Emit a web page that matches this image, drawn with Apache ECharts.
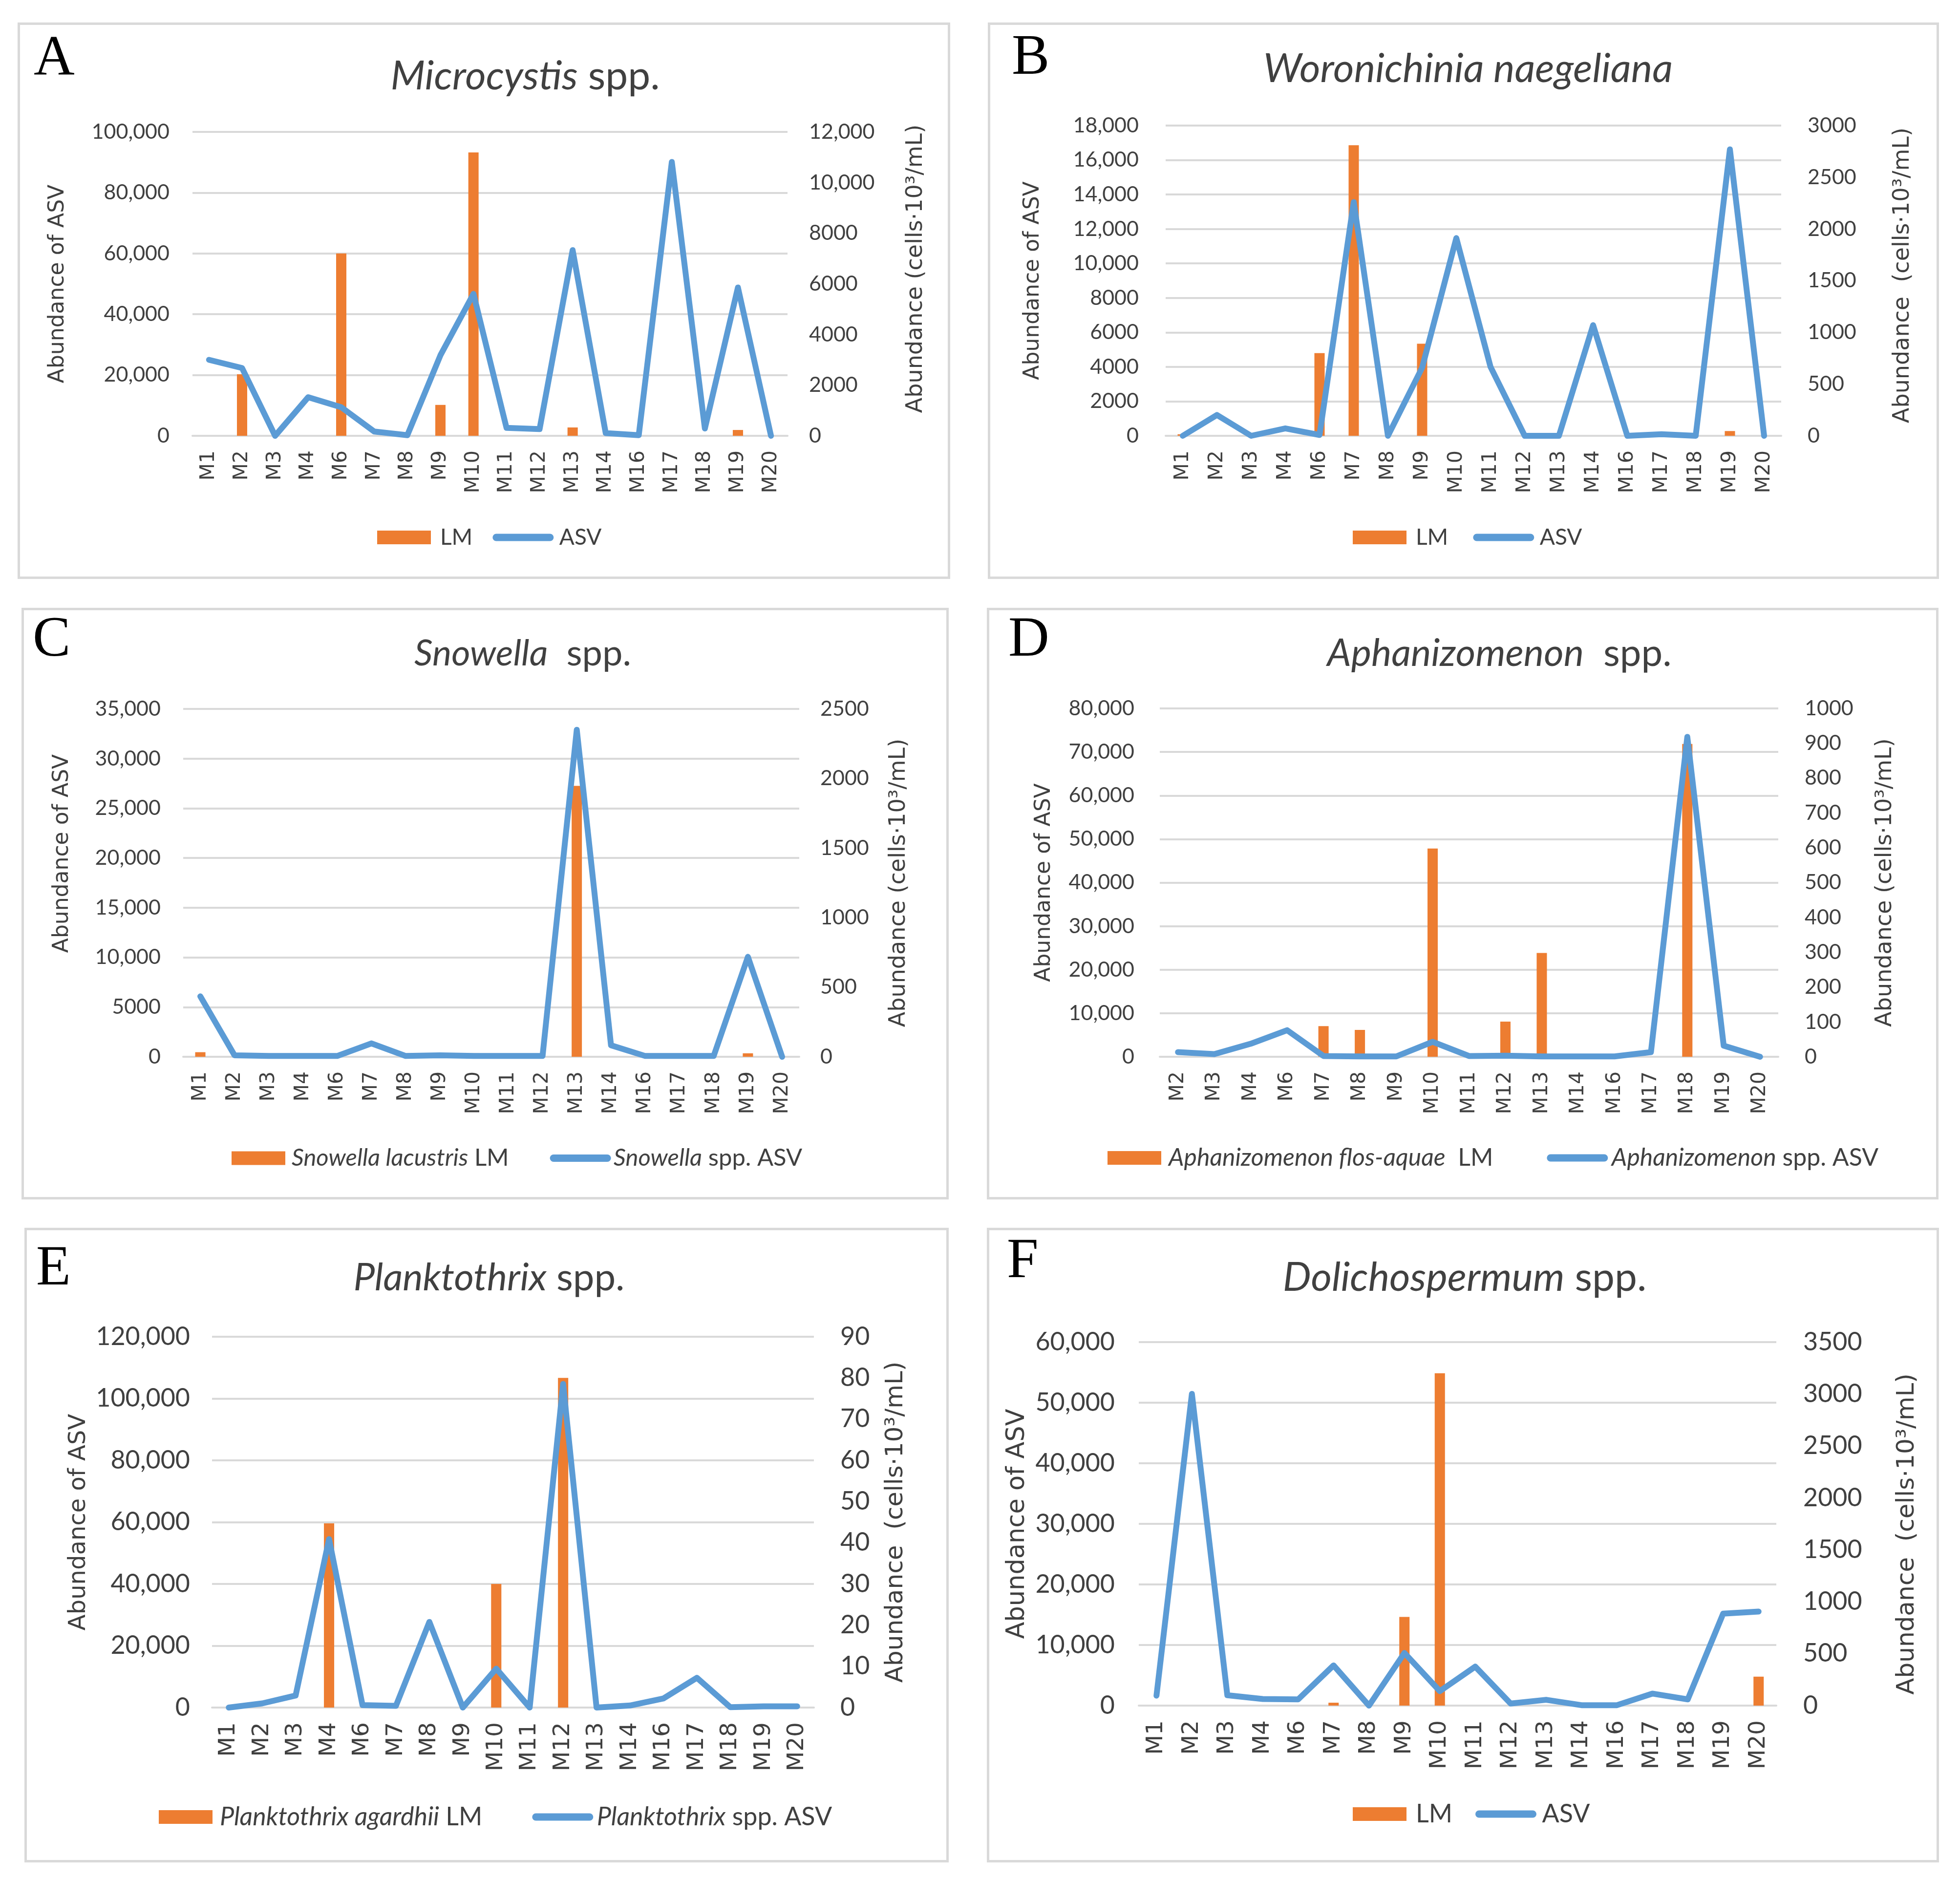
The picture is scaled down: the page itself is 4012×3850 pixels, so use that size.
<!DOCTYPE html>
<html><head><meta charset="utf-8">
<script src="https://cdn.jsdelivr.net/npm/echarts@6/dist/echarts.min.js"></script>
<style>
html,body{margin:0;padding:0;background:#fff;width:4012px;height:3850px;overflow:hidden}
.p{position:absolute}
</style>
</head><body>
<div id="pA" class="p"></div><div id="pB" class="p"></div>
<div id="pC" class="p"></div><div id="pD" class="p"></div>
<div id="pE" class="p"></div><div id="pF" class="p"></div>
<script>
// ---------- DATA ----------
const catsStd = ['M1','M2','M3','M4','M6','M7','M8','M9','M10','M11','M12','M13','M14','M16','M17','M18','M19','M20'];
const catsD   = ['M2','M3','M4','M6','M7','M8','M9','M10','M11','M12','M13','M14','M16','M17','M18','M19','M20'];

// A: Microcystis
const asvA = [25000, 22300, 0, 12700, 9400, 1400, 200, 26500, 46700, 2600, 2200, 61100, 900, 200, 90100, 2400, 48800, 0];
const lmA  = [0, 2430, 0, 0, 7200, 0, 0, 1220, 11190, 0, 0, 330, 0, 0, 0, 0, 230, 0];
const ticksAL = [0, 20000, 40000, 60000, 80000, 100000];
const ticksAR = [0, 2000, 4000, 6000, 8000, 10000, 12000];

// B: Woronichinia naegeliana
const asvB = [0, 1210, 0, 430, 50, 13560, 0, 3950, 11470, 4000, 0, 0, 6420, 0, 90, 0, 16620, 0];
const lmB  = [15, 0, 0, 0, 800, 2810, 0, 890, 0, 0, 0, 0, 0, 0, 0, 0, 46, 0];
const ticksBL = [0, 2000, 4000, 6000, 8000, 10000, 12000, 14000, 16000, 18000];
const ticksBR = [0, 500, 1000, 1500, 2000, 2500, 3000];

// C: Snowella
const asvC = [6080, 150, 80, 80, 80, 1350, 80, 150, 80, 80, 80, 32900, 1160, 80, 80, 80, 10060, 0];
const lmC  = [33, 0, 0, 0, 0, 0, 0, 5, 25, 0, 0, 1947, 0, 0, 0, 0, 25, 0];
const ticksCL = [0, 5000, 10000, 15000, 20000, 25000, 30000, 35000];
const ticksCR = [0, 500, 1000, 1500, 2000, 2500];

// D: Aphanizomenon
const asvD = [1060, 620, 3000, 6100, 180, 90, 90, 3440, 180, 260, 90, 90, 90, 1060, 73470, 2560, 0];
const lmD  = [0, 0, 0, 0, 88, 77, 0, 598, 0, 101, 298, 0, 0, 0, 898, 0, 0];
const ticksDL = [0, 10000, 20000, 30000, 40000, 50000, 60000, 70000, 80000];
const ticksDR = [0, 100, 200, 300, 400, 500, 600, 700, 800, 900, 1000];

// E: Planktothrix
const asvE = [0, 1340, 3880, 54500, 800, 540, 27720, 0, 12590, 0, 104700, 0, 670, 2950, 9640, 130, 400, 400];
const lmE  = [0, 0, 0, 44.7, 0, 0, 0, 0, 30, 0, 80, 0, 0, 0, 0, 0, 0, 0];
const ticksEL = [0, 20000, 40000, 60000, 80000, 100000, 120000];
const ticksER = [0, 10, 20, 30, 40, 50, 60, 70, 80, 90];

// F: Dolichospermum
const asvF = [1640, 51450, 1710, 1090, 1030, 6640, 0, 8690, 2390, 6430, 340, 960, 70, 70, 1980, 1030, 15190, 15530];
const lmF  = [0, 0, 0, 0, 0, 28, 0, 854, 3200, 0, 0, 0, 0, 0, 0, 0, 0, 279];
const ticksFL = [0, 10000, 20000, 30000, 40000, 50000, 60000];
const ticksFR = [0, 500, 1000, 1500, 2000, 2500, 3000, 3500];

// ---------- TEXT ----------
const leftName = 'Abundance of ASV';
const rightName1 = 'Abundance (cells\u00b710\u00b3/mL)';
const rightName2 = 'Abundance  (cells\u00b710\u00b3/mL)';

// ---------- LAYOUT ----------
const fSmall = {tick:43, cat:41, lname:44, rname:46, letter:116};
const fBig   = {tick:52, cat:47, lname:48, rname:50, letter:116};
const fBigF  = {tick:52, cat:47, lname:51, rname:50, letter:116};

const panels = [
 {id:'pA', box:[36,46,1909,1139], grid:[358,224,1218,622], letter:'A', letterPos:[33,77],
  title:'{i|Microcystis} {n|spp.}', titlePos:[1039,111], titleSize:82, cats:catsStd, asv:asvA, lm:lmA, lt:ticksAL, rt:ticksAR,
  rName:rightName1, lGap:253, rGap:240, lMargin:47, rMargin:44, lPad:[0,0,0,0], rPad:[0,0,0,62],
  legY:1059, legC:962, legGap:41, legFont:46, textPad:14, lmLabel:'LM', asvLabel:'ASV', f:fSmall},
 {id:'pB', box:[2022,46,1947,1139], grid:[364,211,1260,635], letter:'B', letterPos:[49,75],
  title:'{i|Woronichinia naegeliana}', titlePos:[983,96], titleSize:82, cats:catsStd, asv:asvB, lm:lmB, lt:ticksBL, rt:ticksBR,
  rName:rightName2, lGap:249, rGap:226, lMargin:55, rMargin:54, lPad:[0,0,0,0], rPad:[0,0,0,22],
  legY:1059, legC:978, legGap:51, legFont:46, textPad:14, lmLabel:'LM', asvLabel:'ASV', f:fSmall},
 {id:'pC', box:[44,1244,1898,1211], grid:[331,207,1261,712], letter:'C', letterPos:[23,68],
  title:'{i|Snowella}  {n|spp.}', titlePos:[1026,94], titleSize:74, cats:catsStd, asv:asvC, lm:lmC, lt:ticksCL, rt:ticksCR,
  rName:rightName1, lGap:225, rGap:181, lMargin:46, rMargin:43, lPad:[0,0,0,120], rPad:[0,0,0,0],
  legY:1131, legC:1010, legGap:84, legFont:49, textPad:8, lmLabel:'{i|Snowella lacustris} LM', asvLabel:'{i|Snowella} spp. ASV', f:fSmall},
 {id:'pD', box:[2020,1244,1948,1211], grid:[354,206,1266,713], letter:'D', letterPos:[44,68],
  title:'{i|Aphanizomenon}  {n|spp.}', titlePos:[1049,94], titleSize:78, cats:catsD, asv:asvD, lm:lmD, lt:ticksDL, rt:ticksDR,
  rName:rightName1, lGap:214, rGap:196, lMargin:52, rMargin:54, lPad:[0,0,0,0], rPad:[0,0,0,0],
  legY:1131, legC:1032, legGap:110, legFont:50, textPad:10, lmLabel:'{i|Aphanizomenon flos-aquae}  LM', asvLabel:'{i|Aphanizomenon} spp. ASV', f:fSmall},
 {id:'pE', box:[50,2513,1892,1299], grid:[384,223,1232,759], letter:'E', letterPos:[24,86],
  title:'{i|Planktothrix} {n|spp.}', titlePos:[951,103], titleSize:78, cats:catsStd, asv:asvE, lm:lmE, lt:ticksEL, rt:ticksER,
  rName:rightName2, lGap:240, rGap:143, lMargin:45, rMargin:54, lPad:[0,0,0,0], rPad:[0,0,0,0],
  legY:1211, legC:960, legGap:102, legFont:52, textPad:10, lmLabel:'{i|Planktothrix agardhii} LM', asvLabel:'{i|Planktothrix} spp. ASV', f:fBig},
 {id:'pF', box:[2020,2513,1949,1299], grid:[311,234,1305,744], letter:'F', letterPos:[41,71],
  title:'{i|Dolichospermum} {n|spp.}', titlePos:[978,103], titleSize:82, cats:catsStd, asv:asvF, lm:lmF, lt:ticksFL, rt:ticksFR,
  rName:rightName2, lGap:195, rGap:243, lMargin:49, rMargin:55, lPad:[0,0,0,0], rPad:[0,42,0,0],
  legY:1205, legC:988, legGap:47, legFont:52, textPad:14, lmLabel:'LM', asvLabel:'ASV', f:fBigF}
];

const TXT = '#404040';
const ORANGE = '#ED7D31';
const BLUE = '#5B9BD5';
const GRID = '#d9d9d9';
const LEG_W = 110, LEG_H = 28;

function numFmt(v){
  return v >= 10000 ? String(v).replace(/\B(?=(\d{3})+(?!\d))/g, ',') : String(v);
}

const mctx = document.createElement('canvas').getContext('2d');
function richWidth(label, size){
  let w = 0;
  const re = /\{i\|([^}]*)\}|([^{]+)/g;
  let m;
  while ((m = re.exec(label)) !== null){
    if (m[1] !== undefined){ mctx.font = 'italic ' + size + 'px Lato'; w += mctx.measureText(m[1]).width; }
    else { mctx.font = size + 'px Lato'; w += mctx.measureText(m[2]).width; }
  }
  return w;
}

function build(p){
  const el = document.getElementById(p.id);
  const [bx, by, bw, bh] = p.box;
  el.style.left = bx + 'px'; el.style.top = by + 'px';
  el.style.width = bw + 'px'; el.style.height = bh + 'px';
  const chart = echarts.init(el, null, {renderer:'canvas', width:bw, height:bh});
  const f = p.f;
  const lf = p.legFont;
  const contentW = 2 * (LEG_W + 5 + p.textPad) + p.legGap + richWidth(p.lmLabel, lf) + richWidth(p.asvLabel, lf);
  const legLeft = Math.round(p.legC - contentW / 2);
  const richLeg = {
    i:{fontFamily:'Lato', fontStyle:'italic', fontSize:lf, color:TXT},
    n:{fontFamily:'Lato', fontSize:lf, color:TXT}
  };
  const option = {
    animation:false,
    backgroundColor:'#ffffff',
    graphic:[
      {type:'rect', shape:{x:2.5, y:2.5, width:bw-5, height:bh-5}, style:{fill:null, stroke:GRID, lineWidth:5}, silent:true},
      {type:'text', x:p.letterPos[0], y:p.letterPos[1],
       style:{text:p.letter, font:f.letter + 'px "Liberation Serif", "Times New Roman", serif', fill:'#000', align:'left', verticalAlign:'middle'}},
      {type:'text', x:p.titlePos[0], y:p.titlePos[1],
       style:{text:p.title, align:'center', verticalAlign:'middle', fill:TXT,
         font:p.titleSize + 'px Lato',
         rich:{
           i:{fontFamily:'Lato', fontStyle:'italic', fontSize:p.titleSize, fill:TXT},
           n:{fontFamily:'Lato', fontSize:p.titleSize, fill:TXT}
         }}}
    ],
    grid:{left:p.grid[0], top:p.grid[1], width:p.grid[2], height:p.grid[3], containLabel:false},
    legend:{
      left:legLeft, top:Math.round(p.legY - lf*0.6), padding:0,
      itemWidth:LEG_W, itemHeight:LEG_H, itemGap:p.legGap,
      lineStyle:{width:15, cap:'round'},
      textStyle:{fontFamily:'Lato', fontSize:lf, color:TXT, padding:[0,0,0,p.textPad], rich:richLeg},
      formatter:function(n){ return n === 'LM' ? p.lmLabel : p.asvLabel; },
      data:[
        {name:'LM', icon:'rect'},
        {name:'ASV', itemStyle:{color:'rgba(0,0,0,0)', borderColor:'rgba(0,0,0,0)', borderWidth:0}, lineStyle:{width:15, cap:'round', color:BLUE}}
      ]
    },
    xAxis:{
      type:'category', data:p.cats,
      axisLine:{lineStyle:{color:GRID, width:4}},
      axisTick:{show:false},
      axisLabel:{rotate:90, interval:0, margin:30, fontFamily:'DejaVu Sans', fontSize:f.cat, color:TXT}
    },
    yAxis:[
      {type:'value', position:'left', min:p.lt[0], max:p.lt[p.lt.length-1], interval:p.lt[1]-p.lt[0],
       name:leftName, nameLocation:'middle', nameGap:p.lGap,
       nameTextStyle:{fontFamily:'DejaVu Sans', fontSize:f.lname, color:TXT, padding:p.lPad},
       axisLine:{show:false}, axisTick:{show:false},
       axisLabel:{margin:p.lMargin, fontFamily:'Lato', fontSize:f.tick, color:TXT, formatter:numFmt},
       splitLine:{show:true, lineStyle:{color:GRID, width:4}}},
      {type:'value', position:'right', min:p.rt[0], max:p.rt[p.rt.length-1], interval:p.rt[1]-p.rt[0],
       name:p.rName, nameLocation:'middle', nameGap:p.rGap,
       nameTextStyle:{fontFamily:'DejaVu Sans', fontSize:f.rname, color:TXT, padding:p.rPad},
       axisLine:{show:false}, axisTick:{show:false},
       axisLabel:{margin:p.rMargin, fontFamily:'Lato', fontSize:f.tick, color:TXT, formatter:numFmt},
       splitLine:{show:false}}
    ],
    series:[
      {type:'bar', name:'LM', yAxisIndex:1, data:p.lm, barWidth:21, itemStyle:{color:ORANGE}, z:2},
      {type:'line', name:'ASV', yAxisIndex:0, data:p.asv, symbol:'none', showSymbol:false,
       lineStyle:{color:BLUE, width:12, cap:'round', join:'round'}, itemStyle:{color:BLUE}, z:3}
    ]
  };
  chart.setOption(option);
}
panels.forEach(build);
</script>
</body></html>
